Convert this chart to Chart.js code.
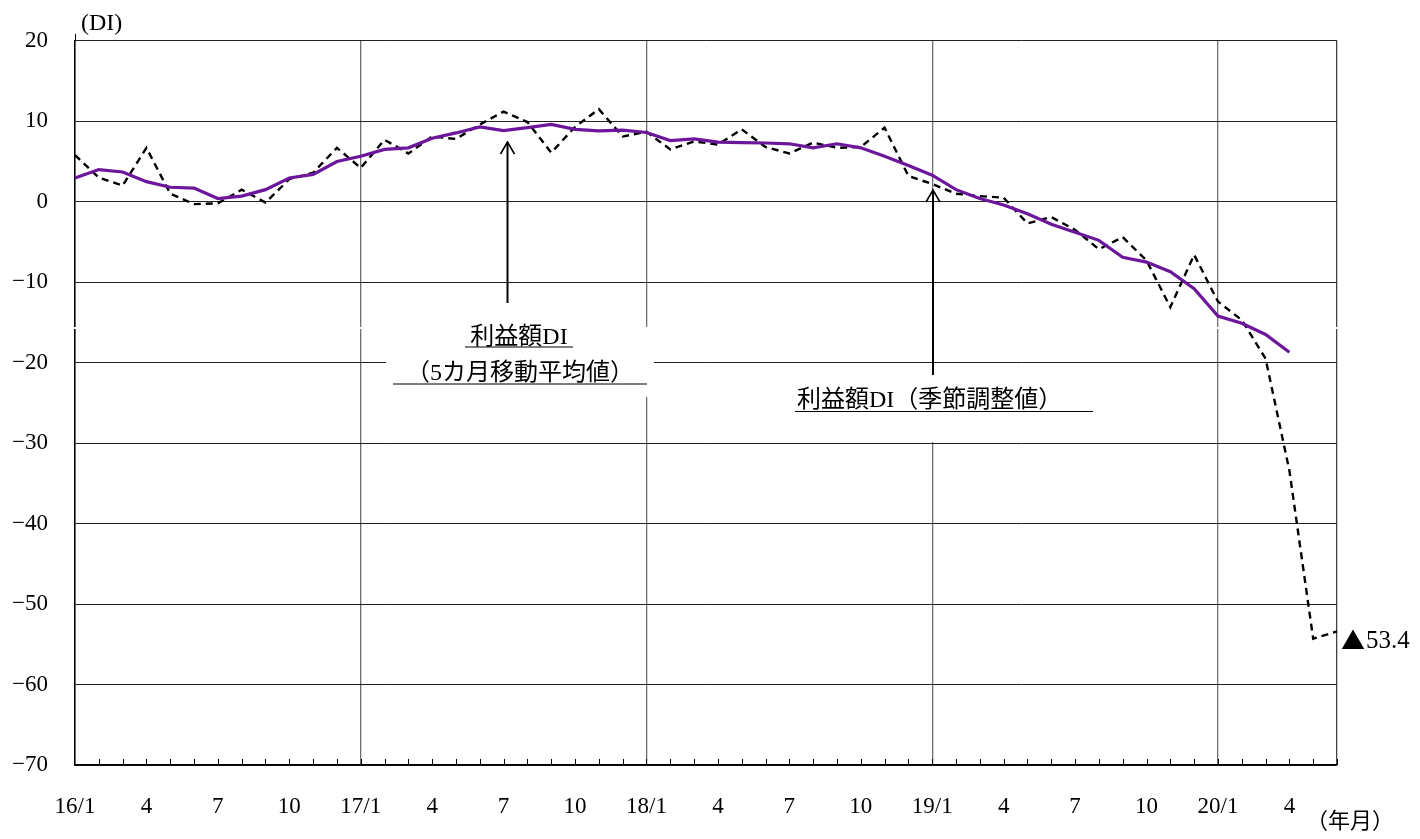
<!DOCTYPE html>
<html>
<head>
<meta charset="utf-8">
<script src="https://cdn.jsdelivr.net/npm/chart.js@4/dist/chart.umd.min.js"></script>
<style>
  html, body { margin: 0; padding: 0; background: #fff; }
  #wrap { width: 1420px; height: 839px; }
</style>
</head>
<body>
<div id="wrap"><canvas id="myChart" width="1420" height="839"></canvas></div>
<script>
// months 16/1 .. 20/6
const months = [
    '16/1','16/2','16/3','16/4','16/5','16/6','16/7','16/8','16/9','16/10','16/11','16/12',
    '17/1','17/2','17/3','17/4','17/5','17/6','17/7','17/8','17/9','17/10','17/11','17/12',
    '18/1','18/2','18/3','18/4','18/5','18/6','18/7','18/8','18/9','18/10','18/11','18/12',
    '19/1','19/2','19/3','19/4','19/5','19/6','19/7','19/8','19/9','19/10','19/11','19/12',
    '20/1','20/2','20/3','20/4','20/5','20/6'
];

// only every third month gets a label
const tickLabels = [
    '16/1','','','4','','','7','','','10','','',
    '17/1','','','4','','','7','','','10','','',
    '18/1','','','4','','','7','','','10','','',
    '19/1','','','4','','','7','','','10','','',
    '20/1','','','4','',''
];

// 利益額DI（季節調整値）
const seasonalDI = [
    5.8, 3.0, 2.0, 6.7, 1.0, -0.3, -0.2, 1.5, -0.1, 2.8, 3.6, 6.7,
    4.2, 7.7, 6.0, 8.1, 7.8, 9.6, 11.2, 9.9, 6.1, 9.3, 11.5, 8.1,
    8.7, 6.5, 7.5, 7.1, 9.0, 6.8, 6.0, 7.35, 6.7, 6.8, 9.2, 3.2,
    2.2, 1.0, 0.7, 0.5, -2.7, -1.9, -3.5, -5.9, -4.4, -7.3, -13.1, -6.6,
    -12.4, -14.7, -19.5, -33.4, -54.3, -53.4
];

// 利益額DI（5カ月移動平均値）
const movingAvgDI = [
    2.95, 4.0, 3.7, 2.5, 1.8, 1.7, 0.4, 0.7, 1.5, 2.95, 3.4, 5.0,
    5.65, 6.5, 6.7, 7.9, 8.55, 9.3, 8.85, 9.2, 9.6, 9.0, 8.8, 8.9,
    8.6, 7.6, 7.8, 7.4, 7.35, 7.3, 7.2, 6.7, 7.2, 6.7, 5.65, 4.5,
    3.3, 1.5, 0.4, -0.4, -1.5, -2.8, -3.8, -4.8, -6.9, -7.5, -8.7, -10.8,
    -14.2, -15.1, -16.5, -18.7, null, null
];

const yMin = -70;
const yMax = 20;
const yStep = 10;

const serif = '"Liberation Serif", "Noto Sans CJK JP", serif';

// Draw an arrow with an open head pointing up
function arrowUp(ctx, x, yTop, yBottom) {
    ctx.save();
    ctx.strokeStyle = '#000';
    ctx.lineWidth = 2;
    ctx.beginPath();
    ctx.moveTo(x, yBottom);
    ctx.lineTo(x, yTop);
    ctx.stroke();
    ctx.lineWidth = 1.6;
    ctx.beginPath();
    ctx.moveTo(x - 7, yTop + 12);
    ctx.lineTo(x, yTop);
    ctx.lineTo(x + 7, yTop + 12);
    ctx.stroke();
    ctx.restore();
}

// Text with an underline
function underlined(ctx, text, cx, y, lineFrom, lineTo, lineY) {
    ctx.fillText(text, cx, y);
    ctx.beginPath();
    ctx.moveTo(lineFrom, lineY);
    ctx.lineTo(lineTo, lineY);
    ctx.stroke();
}

const decorations = {
    id: 'decorations',
    beforeDatasetsDraw(chart) {
        const ctx = chart.ctx;
        const area = chart.chartArea;
        ctx.save();
        ctx.fillStyle = '#fff';
        // thin white strip crossing the plot
        ctx.fillRect(area.left - 2, 327, area.right - area.left + 4, 2);
        // label boxes hiding the grid behind them
        ctx.fillRect(386, 327, 268, 70);
        ctx.fillRect(795, 375, 300, 67);
        ctx.restore();
    },
    afterDatasetsDraw(chart) {
        const ctx = chart.ctx;
        const area = chart.chartArea;
        const xs = chart.scales.x;

        ctx.save();
        // small month ticks on the bottom axis, pointing inward
        ctx.strokeStyle = '#000';
        ctx.lineWidth = 1;
        for (let i = 1; i < months.length; i++) {
            const px = Math.round(xs.getPixelForValue(i)) + 0.5;
            ctx.beginPath();
            ctx.moveTo(px, area.bottom);
            ctx.lineTo(px, area.bottom - 6);
            ctx.stroke();
        }
        // left axis pokes out above the top
        ctx.beginPath();
        ctx.moveTo(area.left + 0.5, area.top);
        ctx.lineTo(area.left + 0.5, area.top - 7);
        ctx.stroke();

        // arrows
        arrowUp(ctx, 507.5, 142, 303);
        arrowUp(ctx, 933, 190, 375);

        // labels
        ctx.fillStyle = '#000';
        ctx.strokeStyle = '#000';
        ctx.lineWidth = 1.2;
        ctx.font = '24px ' + serif;
        ctx.textAlign = 'center';
        ctx.textBaseline = 'alphabetic';
        underlined(ctx, '利益額DI', 519, 344, 465, 573, 347);
        underlined(ctx, '（5カ月移動平均値）', 520, 380, 393, 647, 384);
        ctx.textAlign = 'left';
        underlined(ctx, '利益額DI（季節調整値）', 797, 407, 795, 1093, 411.5);

        // last value marker
        ctx.textBaseline = 'middle';
        ctx.font = '24px "Noto Sans CJK JP", sans-serif';
        ctx.fillText('▲', 1341, 640);
        ctx.font = '25px ' + serif;
        ctx.fillText('53.4', 1366, 641);

        // axis unit labels
        ctx.font = '24px ' + serif;
        ctx.fillText('(DI)', 81, 24);
        ctx.font = '22px ' + serif;
        ctx.fillText('（年月）', 1306, 822);
        ctx.restore();
    }
};

const ctx = document.getElementById('myChart').getContext('2d');
const myChart = new Chart(ctx, {
    type: 'line',
    data: {
        labels: months,
        datasets: [
            {
                label: '利益額DI（5カ月移動平均値）',
                data: movingAvgDI,
                borderColor: '#6C169C',
                borderWidth: 3.2,
                pointRadius: 0,
                tension: 0,
                spanGaps: false
            },
            {
                label: '利益額DI（季節調整値）',
                data: seasonalDI,
                borderColor: '#000',
                borderWidth: 2.4,
                borderDash: [7, 5],
                pointRadius: 0,
                tension: 0
            }
        ]
    },
    options: {
        responsive: false,
        animation: false,
        layout: {
            padding: { left: 0, top: 40, right: 83, bottom: 24 }
        },
        plugins: {
            legend: { display: false },
            tooltip: { enabled: false }
        },
        scales: {
            x: {
                offset: false,
                afterFit: function(scale) { scale.height = 50; },
                grid: {
                    drawTicks: false,
                    color: function(c) {
                        if (c.index === months.length - 1) return '#444';
                        return c.index % 12 === 0 ? '#6f6f6f' : 'rgba(0,0,0,0)';
                    },
                    lineWidth: 1.3
                },
                border: { color: '#000', width: 1.5 },
                ticks: {
                    autoSkip: false,
                    maxRotation: 0,
                    padding: 28,
                    color: '#000',
                    font: { family: serif, size: 23 },
                    callback: function(val, i) { return tickLabels[i]; }
                }
            },
            y: {
                min: yMin,
                max: yMax,
                afterFit: function(scale) { scale.width = 75; },
                grid: {
                    drawTicks: false,
                    color: '#222',
                    lineWidth: 1
                },
                border: { color: '#000', width: 1.5 },
                ticks: {
                    stepSize: yStep,
                    padding: 27,
                    color: '#000',
                    font: { family: serif, size: 23 },
                    callback: function(v) { return v < 0 ? '−' + Math.abs(v) : String(v); }
                }
            }
        }
    },
    plugins: [decorations]
});
</script>
</body>
</html>
